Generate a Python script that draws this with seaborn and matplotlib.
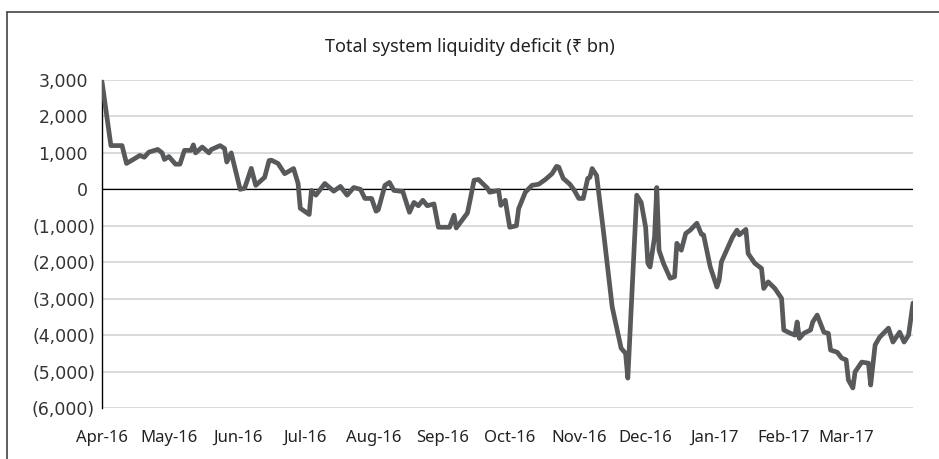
import matplotlib
matplotlib.use('Agg')
import matplotlib.pyplot as plt
from matplotlib.lines import Line2D
from matplotlib.transforms import ScaledTranslation
import seaborn as sns
import pandas as pd

# Liquidity deficit readings (Rs bn)
dates = [
    '2016-04-01', '2016-04-05', '2016-04-10', '2016-04-12', '2016-04-18', '2016-04-20',
    '2016-04-22', '2016-04-26', '2016-04-28', '2016-04-29', '2016-05-01', '2016-05-04',
    '2016-05-06', '2016-05-08', '2016-05-11', '2016-05-12', '2016-05-13', '2016-05-16',
    '2016-05-19', '2016-05-20', '2016-05-24', '2016-05-26', '2016-05-27', '2016-05-29',
    '2016-06-02', '2016-06-04', '2016-06-07', '2016-06-09', '2016-06-13', '2016-06-15',
    '2016-06-16', '2016-06-19', '2016-06-22', '2016-06-26', '2016-06-28', '2016-06-29',
    '2016-07-03', '2016-07-04', '2016-07-06', '2016-07-10', '2016-07-14', '2016-07-17',
    '2016-07-20', '2016-07-23', '2016-07-26', '2016-07-28', '2016-07-31', '2016-08-02',
    '2016-08-03', '2016-08-06', '2016-08-08', '2016-08-10', '2016-08-14', '2016-08-17',
    '2016-08-19', '2016-08-21', '2016-08-23', '2016-08-25', '2016-08-28', '2016-08-30',
    '2016-09-04', '2016-09-06', '2016-09-07', '2016-09-12', '2016-09-13', '2016-09-15',
    '2016-09-17', '2016-09-21', '2016-09-22', '2016-09-26', '2016-09-27', '2016-09-29',
    '2016-10-01', '2016-10-04', '2016-10-05', '2016-10-08', '2016-10-11', '2016-10-14',
    '2016-10-17', '2016-10-20', '2016-10-22', '2016-10-23', '2016-10-25', '2016-10-28',
    '2016-10-30', '2016-11-01', '2016-11-03', '2016-11-05', '2016-11-06', '2016-11-07',
    '2016-11-09', '2016-11-12', '2016-11-16', '2016-11-20', '2016-11-22', '2016-11-23',
    '2016-11-27', '2016-11-29', '2016-12-01', '2016-12-02', '2016-12-03', '2016-12-05',
    '2016-12-06', '2016-12-07', '2016-12-09', '2016-12-12', '2016-12-14', '2016-12-15',
    '2016-12-17', '2016-12-19', '2016-12-21', '2016-12-24', '2016-12-26', '2016-12-27',
    '2016-12-30', '2017-01-02', '2017-01-03', '2017-01-04', '2017-01-06', '2017-01-09',
    '2017-01-11', '2017-01-12', '2017-01-15', '2017-01-16', '2017-01-19', '2017-01-22',
    '2017-01-23', '2017-01-25', '2017-01-28', '2017-01-31', '2017-02-01', '2017-02-04',
    '2017-02-06', '2017-02-07', '2017-02-08', '2017-02-10', '2017-02-13', '2017-02-14',
    '2017-02-16', '2017-02-19', '2017-02-21', '2017-02-22', '2017-02-25', '2017-02-27',
    '2017-03-01', '2017-03-02', '2017-03-04', '2017-03-05', '2017-03-08', '2017-03-11',
    '2017-03-12', '2017-03-14', '2017-03-16', '2017-03-20', '2017-03-22', '2017-03-25',
    '2017-03-27', '2017-03-29', '2017-03-31',
]
deficit = [
    2950, 1200, 1200, 710, 930, 880,
    1020, 1095, 1000, 820, 900, 690,
    690, 1070, 1070, 1220, 1000, 1160,
    1000, 1090, 1200, 1120, 750, 1000,
    0, 30, 575, 110, 330, 790,
    800, 710, 430, 570, 160, -520,
    -690, -30, -160, 160, -50, 80,
    -160, 50, 0, -250, -250, -600,
    -560, 110, 190, -30, -60, -630,
    -360, -450, -300, -450, -400, -1040,
    -1040, -710, -1060, -650, -360, 250,
    270, 30, -80, -30, -440, -300,
    -1040, -1000, -530, -80, 110, 140,
    270, 430, 630, 610, 300, 140,
    -30, -250, -250, 300, 330, 570,
    380, -1120, -3230, -4360, -4500, -5180,
    -160, -360, -1040, -2030, -2130, -1310,
    50, -1670, -2030, -2440, -2400, -1480,
    -1670, -1210, -1120, -930, -1230, -1250,
    -2130, -2680, -2490, -1990, -1720, -1310,
    -1120, -1250, -1100, -1760, -2030, -2170,
    -2720, -2540, -2720, -2990, -3860, -3950,
    -4000, -3640, -4090, -3950, -3860, -3640,
    -3450, -3920, -3950, -4410, -4470, -4630,
    -4680, -5230, -5450, -5010, -4740, -4770,
    -5370, -4270, -4060, -3810, -4190, -3920,
    -4190, -4000, -3120,
]
y_ticks = [3000, 2000, 1000, 0, -1000, -2000, -3000, -4000, -5000, -6000]
y_labels = ['3,000', '2,000', '1,000', '0', '(1,000)', '(2,000)', '(3,000)',
            '(4,000)', '(5,000)', '(6,000)']
month_labels = ['Apr-16', 'May-16', 'Jun-16', 'Jul-16', 'Aug-16', 'Sep-16', 'Oct-16',
                'Nov-16', 'Dec-16', 'Jan-17', 'Feb-17', 'Mar-17']

df = pd.DataFrame({'date': pd.to_datetime(dates), 'deficit': deficit})

sns.set_style('white')
plt.rcParams['font.family'] = ['Noto Sans', 'DejaVu Sans']

fig = plt.figure(figsize=(9.39, 4.59), dpi=100)
ax = fig.add_axes([102 / 939, 1 - 408 / 459, (913 - 102) / 939, (408 - 80) / 459])

ax.set_ylim(-6000, 3000)
ax.set_yticks(y_ticks)
ax.yaxis.grid(True, color='#d9d9d9', linewidth=1.4)
ax.set_axisbelow(True)
ax.axhline(0, color='black', linewidth=0.9, zorder=1)

sns.lineplot(data=df, x='date', y='deficit', ax=ax, color='#58595b',
             linewidth=3.4, zorder=3)

ax.set_xlim(pd.Timestamp('2016-04-01'), pd.Timestamp('2017-03-31'))
ax.set_xticks(pd.date_range('2016-04-01', '2017-03-01', freq='MS'))
ax.set_xticklabels(month_labels, fontsize=12, color='#222222')
ax.set_yticklabels(y_labels, fontsize=12.5, color='#333333', family='DejaVu Sans')
ax.tick_params(axis='x', length=0, pad=16)
ax.tick_params(axis='y', length=0, pad=5)
ax.set_xlabel('')
ax.set_ylabel('')

# accounting-style alignment: positives sit left of the closing bracket
for lbl in ax.get_yticklabels():
    if not lbl.get_text().startswith('('):
        lbl.set_transform(lbl.get_transform() + ScaledTranslation(-7 / 100, 0, fig.dpi_scale_trans))

for side in ['top', 'right', 'bottom']:
    ax.spines[side].set_visible(False)
ax.spines['left'].set_color('black')
ax.spines['left'].set_linewidth(1.0)

fig.text(0.5, 1 - 47 / 459, 'Total system liquidity deficit (₹ bn)', ha='center',
         va='center', fontsize=13, color='#222222')

# outer frame (left and top edges)
fig.add_artist(Line2D([7 / 939, 7 / 939], [0, 1 - 12 / 459], color='#444444', linewidth=1.2))
fig.add_artist(Line2D([7 / 939, 1], [1 - 12 / 459, 1 - 12 / 459], color='#444444', linewidth=1.2))

fig.savefig('out.png', dpi=100)
